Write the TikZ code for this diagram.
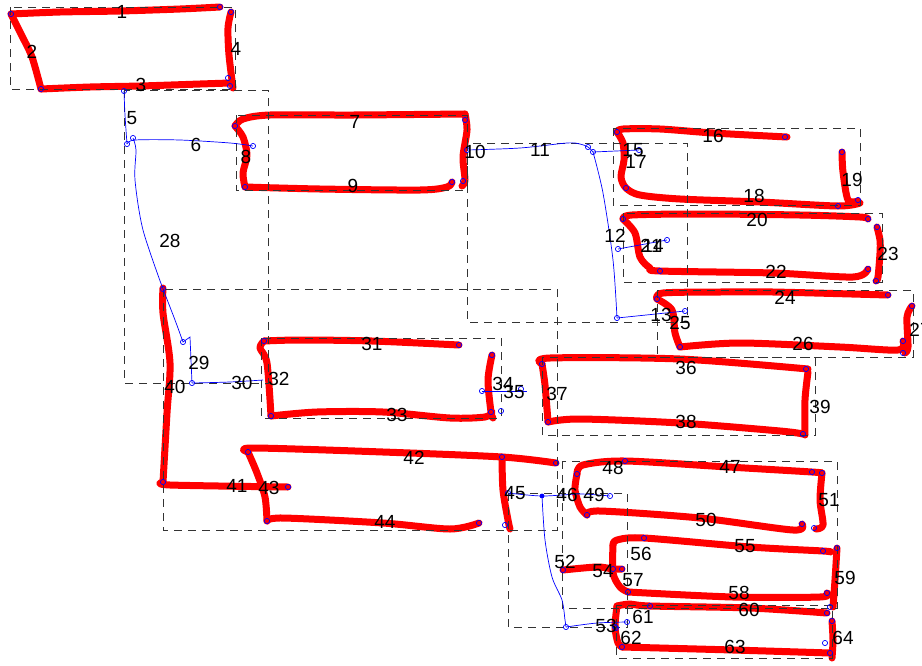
\documentclass[tikz,border=0pt]{standalone}
\usepackage{fontspec}
\setmainfont{Liberation Sans}
\begin{document}
\begin{tikzpicture}[x=1pt,y=-1pt,
  rs/.style={draw=red, line width=7pt, line cap=round, line join=round},
  bl/.style={draw=blue, line width=0.7pt},
  bx/.style={draw=black!80, line width=0.9pt, dash pattern=on 8pt off 6pt},
  ptc/.style={draw=blue, line width=0.7pt},
  lb/.style={font=\fontsize{19}{19}\selectfont, inner sep=0pt, text=black}]
\useasboundingbox (0,0) rectangle (922,665);
\fill[white] (0,0) rectangle (922,665);
% ---------- red strokes ----------
\draw[rs] plot[smooth] coordinates {(11,14) (60,12) (120,11) (180,9) (220,7)};
\draw[rs] plot[smooth] coordinates {(11,14) (22,36) (32,57) (41,89)};
\draw[rs] plot[smooth] coordinates {(41,89) (90,87) (140,86) (200,84) (230,83)};
\draw[rs] plot[smooth] coordinates {(231,12) (228,28) (229,55) (233,88)};
\draw[rs] plot[smooth] coordinates {(235,126) (243,119) (270,115) (353,115) (465,114)};
\draw[rs] plot[smooth] coordinates {(235,126) (243,137) (247,155) (243,173) (245,187)};
\draw[rs] plot[smooth] coordinates {(245,187) (320,189) (420,190) (447,187) (452,182)};
\draw[rs] plot[smooth] coordinates {(465,114) (467,130) (463,157) (465,180) (462,186)};
\draw[rs] plot[smooth] coordinates {(617,132) (623,129) (660,129) (713,133) (787,137)};
\draw[rs] plot[smooth] coordinates {(617,132) (623,143) (624,160) (621,177) (626,188) (640,195) (680,199) (760,202) (838,206) (860,203)};
\draw[rs] plot[smooth] coordinates {(842,152) (843,172) (848,200) (858,201)};
\draw[rs] plot[smooth] coordinates {(623,219) (632,215) (700,214) (800,215) (860,217) (868,219)};
\draw[rs] plot[smooth] coordinates {(623,219) (635,233) (640,257) (650,268) (660,271) (773,273) (853,277) (868,269)};
\draw[rs] plot[smooth] coordinates {(877,227) (880,240) (880,253) (878,277) (876,281)};
\draw[rs] plot[smooth] coordinates {(657,299) (663,293) (720,292) (773,292) (888,295)};
\draw[rs] plot[smooth] coordinates {(657,299) (672,310) (675,333) (680,347)};
\draw[rs] plot[smooth] coordinates {(680,347) (740,343) (840,347) (898,350) (903,341)};
\draw[rs] plot[smooth] coordinates {(912,306) (907,317) (908,347) (905,353)};
\draw[rs] plot[smooth] coordinates {(264,341) (300,340) (372,341) (459,345)};
\draw[rs] plot[smooth] coordinates {(264,341) (260,348) (267,363) (271,416)};
\draw[rs] plot[smooth] coordinates {(271,416) (317,412) (383,412) (450,418) (485,417) (492,412)};
\draw[rs] plot[smooth] coordinates {(492,355) (488,380) (491,412) (493,418)};
\draw[rs] plot[smooth] coordinates {(542,364) (550,358) (680,359) (808,369)};
\draw[rs] plot[smooth] coordinates {(542,364) (545,385) (548,422)};
\draw[rs] plot[smooth] coordinates {(548,422) (580,419) (680,423) (780,431) (803,434)};
\draw[rs] plot[smooth] coordinates {(808,372) (805,400) (805,435)};
\draw[rs] plot[smooth] coordinates {(163,288) (163,313) (170,363) (167,413) (163,482)};
\draw[rs] plot[smooth] coordinates {(163,482) (170,485) (288,487)};
\draw[rs] plot[smooth] coordinates {(248,452) (253,448) (383,452) (502,457) (556,463)};
\draw[rs] plot[smooth] coordinates {(248,452) (257,473) (265,497) (267,521)};
\draw[rs] plot[smooth] coordinates {(267,521) (283,518) (383,523) (450,529) (479,523)};
\draw[rs] plot[smooth] coordinates {(502,457) (503,490) (508,520) (510,529)};
\draw[rs] plot[smooth] coordinates {(577,474) (583,465) (625,461) (728,467) (812,472) (822,473)};
\draw[rs] plot[smooth] coordinates {(577,474) (575,490) (580,507) (587,515)};
\draw[rs] plot[smooth] coordinates {(587,515) (600,511) (700,518) (793,530) (802,524)};
\draw[rs] plot[smooth] coordinates {(822,473) (820,500) (823,525) (816,529)};
\draw[rs] plot[smooth] coordinates {(563,570) (597,567) (613,569) (622,569)};
\draw[rs] plot[smooth] coordinates {(613,545) (617,540) (644,538) (750,547) (823,551) (830,552)};
\draw[rs] plot[smooth] coordinates {(613,545) (613,573) (620,587) (628,592)};
\draw[rs] plot[smooth] coordinates {(628,592) (733,597) (820,597) (827,593)};
\draw[rs] plot[smooth] coordinates {(837,548) (835,580) (833,607)};
\draw[rs] plot[smooth] coordinates {(617,606) (630,604) (650,606) (750,608) (827,613)};
\draw[rs] plot[smooth] coordinates {(617,606) (615,627) (618,643) (622,647)};
\draw[rs] plot[smooth] coordinates {(622,647) (733,650) (830,653)};
\draw[rs] plot[smooth] coordinates {(832,621) (833,640) (832,658)};
% ---------- dashed group boxes ----------
\draw[bx] (10,7) rectangle (235,89);
\draw[bx] (124,90) rectangle (268,383);
\draw[bx] (236,115) rectangle (467,190);
\draw[bx] (467,143) rectangle (687,322);
\draw[bx] (613,128) rectangle (860,205);
\draw[bx] (623,213) rectangle (882,282);
\draw[bx] (657,290) rectangle (913,357);
\draw[bx] (163,289) rectangle (557,530);
\draw[bx] (261,338) rectangle (501,418);
\draw[bx] (542,357) rectangle (815,435);
\draw[bx] (562,461) rectangle (837,608);
\draw[bx] (508,493) rectangle (627,627);
\draw[bx] (616,605) rectangle (832,658);
% ---------- blue connectors ----------
\draw[bl] plot[smooth] coordinates {(124,91) (125,115) (127,144)};
\draw[bl] plot[smooth] coordinates {(127,144) (135,140) (180,140) (230,143) (253,146)};
\draw[bl] plot[smooth] coordinates {(133,138) (136,150) (135,180) (143,230) (163,289)};
\draw[bl] plot[smooth] coordinates {(163,289) (175,320) (183,342)} -- (190,337) -- (192,383);
\draw[bl] plot[smooth] coordinates {(192,383) (230,382) (263,380)};
\draw[bl] plot[smooth] coordinates {(467,150) (520,148) (567,143) (580,144) (588,147) (593,152)};
\draw[bl] plot[smooth] coordinates {(593,152) (603,193) (613,260) (617,318)};
\draw[bl] (593,152) -- (639,150);
\draw[bl] (618,249) -- (667,240);
\draw[bl] (617,318) -- (685,311);
\draw[bl] (482,391) -- (527,391);
\draw[bl] plot[smooth] coordinates {(508,493) (542,496) (580,494) (610,496)};
\draw[bl] plot[smooth] coordinates {(542,496) (545,540) (552,577) (562,600) (565,620) (566,627)};
\draw[bl] plot[smooth] coordinates {(566,627) (597,623) (627,622)};
% ---------- end point markers ----------
\foreach \p in {(11,14),(220,7),(231,12),(41,89),(228,78),(230,86),
  (124,91),(127,144),(133,138),(253,146),
  (235,126),(245,187),(465,120),(467,150),(463,181),(452,182),
  (588,147),(593,152),(639,150),(617,132),(626,188),(785,137),(842,152),(838,206),(858,200),
  (623,219),(868,219),(618,249),(667,240),(660,271),(877,227),(876,281),(868,269),
  (617,318),(685,311),(657,299),(888,295),(680,347),(903,341),(912,306),(903,353),
  (163,289),(183,342),(192,383),
  (264,341),(459,345),(271,416),(492,355),(491,412),(501,411),(482,391),(521,389),
  (542,364),(548,422),(806,369),(803,434),
  (248,452),(163,482),(288,487),(267,521),(479,523),(502,457),(556,463),(505,525),
  (508,493),(610,496),(566,627),(616,628),(627,622),
  (577,474),(625,461),(812,472),(822,473),(587,515),(802,524),(814,528),
  (563,570),(613,569),(622,569),(644,538),(823,551),(837,548),(628,592),(827,593),(830,607),
  (650,606),(827,613),(832,621),(615,627),(622,647),(825,643),(830,653)}
  \draw[ptc] \p circle (2.6pt);
\fill[blue] (542,496) circle (2.4pt);
% ---------- labels ----------
\node[lb] (l1) at (122,12) {1};
\node[lb] (l2) at (32,52) {2};
\node[lb] (l3) at (141,85) {3};
\node[lb] (l4) at (236,49) {4};
\node[lb] (l5) at (132,118) {5};
\node[lb] (l6) at (196,145) {6};
\node[lb] (l7) at (355,122) {7};
\node[lb] (l8) at (246,157) {8};
\node[lb] (l9) at (353,186) {9};
\node[lb] (l10) at (475,152) {10};
\node[lb] (l11) at (540,150) {11};
\node[lb] (l12) at (615,236) {12};
\node[lb] (l13) at (661,315) {13};
\node[lb] (l14) at (653,246) {14};
\node[lb] (l15) at (633,150) {15};
\node[lb] (l16) at (713,136) {16};
\node[lb] (l17) at (636,162) {17};
\node[lb] (l18) at (754,196) {18};
\node[lb] (l19) at (852,180) {19};
\node[lb] (l20) at (757,220) {20};
\node[lb] (l21) at (651,246) {21};
\node[lb] (l22) at (776,272) {22};
\node[lb] (l23) at (888,254) {23};
\node[lb] (l24) at (785,298) {24};
\node[lb] (l25) at (680,323) {25};
\node[lb] (l26) at (803,344) {26};
\node[lb] (l27) at (920,330) {27};
\node[lb] (l28) at (170,241) {28};
\node[lb] (l29) at (199,363) {29};
\node[lb] (l30) at (242,383) {30};
\node[lb] (l31) at (372,344) {31};
\node[lb] (l32) at (279,379) {32};
\node[lb] (l33) at (397,415) {33};
\node[lb] (l34) at (503,384) {34};
\node[lb] (l35) at (514,392) {35};
\node[lb] (l36) at (686,368) {36};
\node[lb] (l37) at (557,394) {37};
\node[lb] (l38) at (686,422) {38};
\node[lb] (l39) at (820,407) {39};
\node[lb] (l40) at (175,387) {40};
\node[lb] (l41) at (237,486) {41};
\node[lb] (l42) at (414,458) {42};
\node[lb] (l43) at (269,488) {43};
\node[lb] (l44) at (385,522) {44};
\node[lb] (l45) at (515,493) {45};
\node[lb] (l46) at (567,495) {46};
\node[lb] (l47) at (730,467) {47};
\node[lb] (l48) at (613,468) {48};
\node[lb] (l49) at (594,495) {49};
\node[lb] (l50) at (706,520) {50};
\node[lb] (l51) at (829,500) {51};
\node[lb] (l52) at (565,562) {52};
\node[lb] (l53) at (606,626) {53};
\node[lb] (l54) at (603,571) {54};
\node[lb] (l55) at (745,546) {55};
\node[lb] (l56) at (641,554) {56};
\node[lb] (l57) at (633,580) {57};
\node[lb] (l58) at (739,593) {58};
\node[lb] (l59) at (845,578) {59};
\node[lb] (l60) at (749,610) {60};
\node[lb] (l61) at (643,617) {61};
\node[lb] (l62) at (631,638) {62};
\node[lb] (l63) at (735,647) {63};
\node[lb] (l64) at (843,638) {64};
\end{tikzpicture}
\end{document}
